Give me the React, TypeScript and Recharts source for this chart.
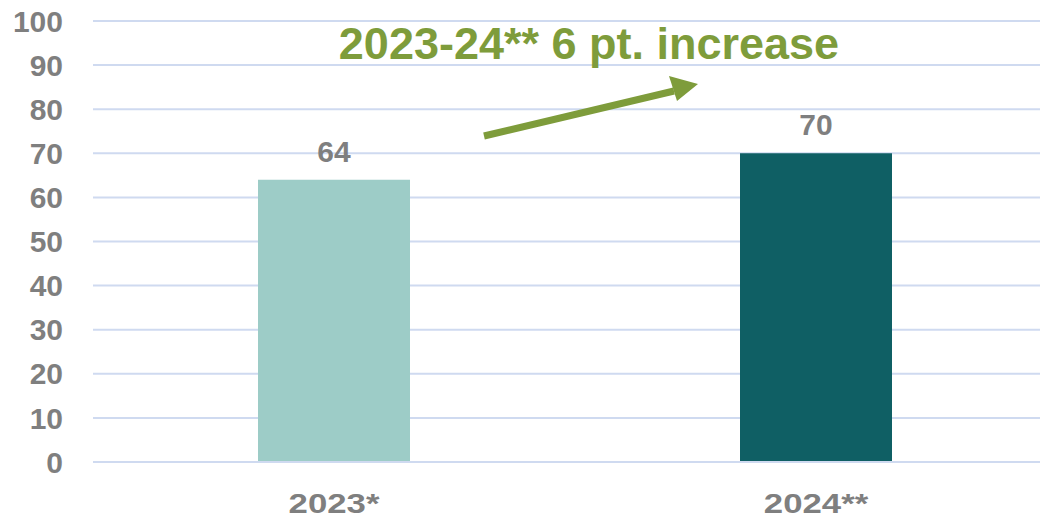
import React from "react";
import { BarChart, Bar, XAxis, YAxis, CartesianGrid, Cell, LabelList } from "recharts";

const categories = ["2023*", "2024**"];
const scores = [64, 70];
const barColors = ["#9DCCC7", "#0F5F64"];
const yTicks = [0, 10, 20, 30, 40, 50, 60, 70, 80, 90, 100];
const annotationText = "2023-24** 6 pt. increase";

const data = categories.map((name, i) => ({ name, value: scores[i] }));

const FONT = "'Liberation Sans', Arial, sans-serif";
const GRAY = "#7F7F7F";
const GREEN = "#7E9C3B";
const GRID = "#CFDAF0";

const XTick = (props: any) => {
  const { x, payload } = props;
  return (
    <text
      transform={`translate(${x},513) scale(1.22,1)`}
      textAnchor="middle"
      fill={GRAY}
      fontSize={28.5}
      fontWeight="bold"
      fontFamily={FONT}
    >
      {payload.value}
    </text>
  );
};

export default function App() {
  return (
    <div
      style={{
        position: "relative",
        margin: -8,
        width: 1048,
        height: 521,
        overflow: "hidden",
        background: "#fff",
      }}
    >
      <BarChart
        width={1057}
        height={521}
        data={data}
        margin={{ top: 21, right: 0, left: 0, bottom: 0 }}
        barCategoryGap={0}
      >
        <CartesianGrid
          horizontal
          vertical={false}
          stroke={GRID}
          strokeWidth={2}
        />
        <XAxis
          dataKey="name"
          height={59}
          axisLine={{ stroke: GRID, strokeWidth: 2 }}
          tickLine={false}
          tick={<XTick />}
        />
        <YAxis
          width={93}
          domain={[0, 100]}
          ticks={yTicks}
          interval={0}
          axisLine={false}
          tickLine={false}
          tickSize={0}
          tickMargin={30}
          tick={{
            fill: GRAY,
            fontSize: 30,
            fontWeight: "bold",
            fontFamily: FONT,
          }}
        />
        <Bar dataKey="value" barSize={152} isAnimationActive={false}>
          {data.map((d, i) => (
            <Cell key={d.name} fill={barColors[i]} />
          ))}
          <LabelList
            dataKey="value"
            position="top"
            offset={18}
            fill={GRAY}
            fontSize={30}
            fontWeight="bold"
            fontFamily={FONT}
          />
        </Bar>
      </BarChart>

      {/* annotation: title + arrow */}
      <svg
        width={1048}
        height={521}
        style={{ position: "absolute", left: 0, top: 0, pointerEvents: "none" }}
      >
        <text
          x={589}
          y={59}
          textAnchor="middle"
          fill={GREEN}
          fontSize={45}
          fontWeight="bold"
          fontFamily={FONT}
        >
          {annotationText}
        </text>
        <line x1={484} y1={136} x2={674} y2={91} stroke={GREEN} strokeWidth={7} />
        <polygon points="698,84 669,76 677,101" fill={GREEN} />
      </svg>
    </div>
  );
}
